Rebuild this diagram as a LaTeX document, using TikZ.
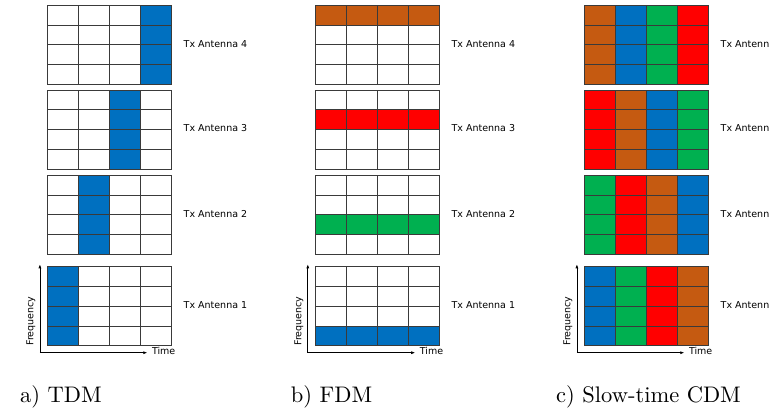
\documentclass[tikz,border=0pt]{standalone}
\usepackage{fontspec}
\newfontfamily\labfont{DejaVu Sans}
\font\capfnt="[lmroman10-regular]" at 22.5pt
\usetikzlibrary{arrows.meta}
\definecolor{cblue}{HTML}{0070C0}
\definecolor{corange}{HTML}{C55A11}
\definecolor{cred}{HTML}{FF0000}
\definecolor{cgreen}{HTML}{00B050}
\definecolor{gline}{HTML}{3A3A3A}
\begin{document}
\begin{tikzpicture}[x=1pt,y=-1pt,
  gridline/.style={draw=gline,line width=0.8pt},
  antlabel/.style={anchor=west,inner sep=0pt,font=\labfont\fontsize{9.5}{11}\selectfont},
  axislabel/.style={inner sep=0pt,font=\labfont\fontsize{9.5}{11}\selectfont},
  caption/.style={anchor=base west,inner sep=0pt,font=\capfnt},
  axisarrow/.style={draw=black,line width=0.7pt,-{Latex[length=4pt,width=3pt]}}]
\useasboundingbox (0,0) rectangle (769,415);
\def\cw{31.125}
\def\ch{19.75}
% panel a fills (TDM)
\foreach \t/\c in {5.3/3,90/2,175.3/1,266.7/0}
  \fill[cblue] (47.3+\c*\cw,\t) rectangle ++(\cw,79);
% panel b fills (FDM)
\foreach \t/\r/\col in {5.3/0/corange,90/1/cred,175.3/2/cgreen,266.7/3/cblue}
  \fill[\col] (315.2,\t+\r*\ch) rectangle ++(124.5,\ch);
% panel c fills (slow-time CDM)
\foreach \t/\ca/\cb/\cc/\cd in {5.3/corange/cblue/cgreen/cred,90/cred/corange/cblue/cgreen,175.3/cgreen/cred/corange/cblue,266.7/cblue/cgreen/cred/corange}{
  \foreach \i/\col in {0/\ca,1/\cb,2/\cc,3/\cd}
    \fill[\col] (584.3+\i*\cw,\t) rectangle ++(\cw,79);
}
% grids, labels, axes
\foreach \px/\pn in {47.3/a,315.2/b,584.3/c}{
  \foreach \t/\n in {5.3/4,90/3,175.3/2,266.7/1}{
    \foreach \i in {1,2,3}{
      \draw[gridline] (\px+\i*\cw,\t) -- (\px+\i*\cw,\t+79);
      \draw[gridline] (\px,\t+\i*\ch) -- (\px+124.5,\t+\i*\ch);
    }
    \draw[gridline] (\px,\t) rectangle (\px+124.5,\t+79);
    \node[antlabel] (\pn\n) at (\px+124.5+11.7,\t+38.5) {Tx Antenna \n};
  }
  \coordinate (o\pn) at (\px-7.4,352.7);
  \coordinate (fy\pn) at (\px-7.4,264.3);
  \coordinate (tx\pn) at (\px+100,352.7);
  \draw[axisarrow] (o\pn) -- (fy\pn);
  \draw[axisarrow] (o\pn) -- (tx\pn);
  \node[axislabel,anchor=west] (time\pn) at ([xshift=4.5pt,yshift=1.3pt]tx\pn) {Time};
  \node[axislabel,rotate=90] (freq\pn) at (\px-16.4,321) {Frequency};
}
\node[caption] (capa) at (20,402.5) {a) TDM};
\node[caption] (capb) at (290.7,402.5) {b) FDM};
\node[caption] (capc) at (556,402.5) {c) Slow-time CDM};
\end{tikzpicture}
\end{document}
